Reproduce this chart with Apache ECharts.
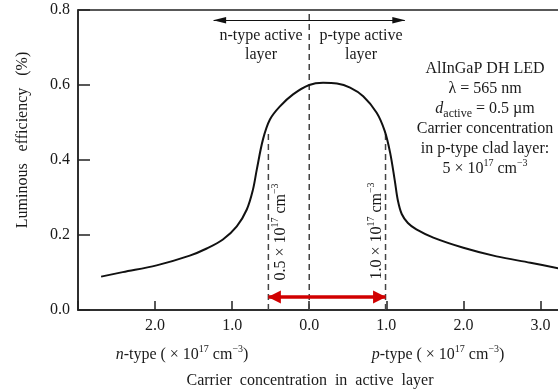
<!DOCTYPE html>
<html>
<head>
<meta charset="utf-8">
<script src="https://cdn.jsdelivr.net/npm/echarts@6/dist/echarts.min.js"></script>
<style>
  html, body { margin: 0; padding: 0; background: #fff; }
  #main { width: 558px; height: 390px; }
</style>
</head>
<body>
<div id="main"></div>
<script>
// carrier concentration: n-type negative, p-type positive (x 10^17 cm^-3)
const curveX = [-2.70, -2.42, -1.98, -1.55, -1.33, -1.12, -0.94, -0.81, -0.73, -0.68, -0.60, -0.51, -0.38, -0.21, 0.0, 0.18, 0.36, 0.53, 0.70, 0.875, 0.98, 1.05, 1.11, 1.15, 1.20, 1.28, 1.39, 1.61, 2.0, 2.43, 2.87, 3.26];
// luminous efficiency (%)
const curveY = [0.089, 0.101, 0.119, 0.145, 0.164, 0.188, 0.223, 0.268, 0.321, 0.375, 0.455, 0.508, 0.543, 0.575, 0.600, 0.606, 0.604, 0.593, 0.570, 0.526, 0.477, 0.419, 0.345, 0.292, 0.256, 0.232, 0.215, 0.193, 0.166, 0.143, 0.126, 0.110];

// dashed guide lines (x, top of line)
const guideX = [-0.53, 0.0, 0.99];
const guideTop = [0.48, 0.8, 0.48];

// red range arrow and the active-layer arrow
const rangeArrowX = [-0.53, 0.99];
const rangeArrowY = 0.035;
const layerArrowX = [-1.24, 1.24];
const layerArrowY = 0.773;

const xTickValues = [-2, -1, 0, 1, 2, 3];
const yTickValues = [0, 0.2, 0.4, 0.6, 0.8];

const SERIF = "'Liberation Serif', 'DejaVu Serif', serif";
const TXT = '#1a1a1a';

const myChart = echarts.init(document.getElementById('main'));

const richStyles = {
  n: { fontFamily: SERIF, fontSize: 16, lineHeight: 22, color: TXT },
  i: { fontFamily: SERIF, fontSize: 16, lineHeight: 22, fontStyle: 'italic', color: TXT },
  sup: { fontFamily: SERIF, fontSize: 10, lineHeight: 10, verticalAlign: 'top', color: TXT },
  sub: { fontFamily: SERIF, fontSize: 12, lineHeight: 14, verticalAlign: 'bottom', color: TXT }
};

function txt(x, y, text, opts) {
  opts = opts || {};
  return {
    type: 'text',
    x: x,
    y: y,
    rotation: opts.rotation || 0,
    silent: true,
    style: {
      text: text,
      rich: richStyles,
      fontFamily: SERIF,
      fontSize: opts.fontSize || 16,
      fill: TXT,
      align: 'center',
      verticalAlign: 'middle'
    }
  };
}

const guideSeries = guideX.map(function (gx, k) {
  return {
    type: 'line',
    data: [[gx, 0], [gx, guideTop[k]]],
    symbol: 'none',
    silent: true,
    z: 1,
    lineStyle: { color: '#444', width: 1.5, type: [6, 4] }
  };
});

myChart.setOption({
  backgroundColor: '#fff',
  animation: false,
  grid: {
    left: 78, top: 10, bottom: 80, width: 501,
    outerBoundsMode: 'none',
    show: true, borderColor: '#222', borderWidth: 1.5
  },
  xAxis: {
    type: 'value',
    min: -3, max: 3.5, interval: 1,
    axisLine: { onZero: false, lineStyle: { color: '#222', width: 1.5 } },
    axisTick: { inside: true, length: 9, lineStyle: { color: '#222', width: 1.5 } },
    splitLine: { show: false },
    axisLabel: {
      margin: 8, fontFamily: SERIF, fontSize: 16, color: TXT,
      formatter: function (v) {
        return xTickValues.indexOf(v) >= 0 ? Math.abs(v).toFixed(1) : '';
      }
    }
  },
  yAxis: {
    type: 'value',
    min: 0, max: 0.8, interval: 0.2,
    axisLine: { onZero: false, lineStyle: { color: '#222', width: 1.5 } },
    axisTick: { inside: true, length: 12, lineStyle: { color: '#222', width: 1.5 } },
    splitLine: { show: false },
    axisLabel: {
      margin: 8, fontFamily: SERIF, fontSize: 16, color: TXT,
      formatter: function (v) {
        return yTickValues.indexOf(Math.round(v * 10) / 10) >= 0 ? v.toFixed(1) : '';
      }
    }
  },
  series: guideSeries.concat([
    {
      type: 'line',
      data: curveX.map(function (x, k) { return [x, curveY[k]]; }),
      smooth: 0.35,
      symbol: 'none',
      z: 3,
      lineStyle: { color: '#111', width: 2 }
    },
    {
      type: 'line',
      data: [],
      silent: true,
      markLine: {
        silent: true,
        animation: false,
        label: { show: false },
        symbol: ['triangle', 'triangle'],
        symbolSize: 13,
        symbolOffset: [[0, 6], [0, 6]],
        lineStyle: { color: '#d10000', width: 3.5, type: 'solid' },
        data: [[
          { coord: [rangeArrowX[0], rangeArrowY] },
          { coord: [rangeArrowX[1], rangeArrowY] }
        ]]
      }
    },
    {
      type: 'line',
      data: [],
      silent: true,
      markLine: {
        silent: true,
        animation: false,
        label: { show: false },
        symbol: ['path://M0,0 L3,12 L-3,12 Z', 'path://M0,0 L3,12 L-3,12 Z'],
        symbolKeepAspect: true,
        symbolSize: 13,
        symbolOffset: [[0, 6], [0, 6]],
        lineStyle: { color: '#111', width: 1.2, type: 'solid' },
        data: [[
          { coord: [layerArrowX[0], layerArrowY] },
          { coord: [layerArrowX[1], layerArrowY] }
        ]]
      }
    }
  ]),
  graphic: [
    txt(23, 140, 'Luminous   efficiency   (%)', { rotation: Math.PI / 2, fontSize: 16 }),
    txt(261, 36, 'n-type active'),
    txt(261, 55, 'layer'),
    txt(361, 36, 'p-type active'),
    txt(361, 55, 'layer'),
    txt(485, 69, 'AlInGaP DH LED'),
    txt(485, 89, 'λ = 565 nm'),
    txt(485, 109, '{i|d}{sub|active}{n| = 0.5 µm}'),
    txt(485, 129, 'Carrier concentration'),
    txt(485, 149, 'in p-type clad layer:'),
    txt(485, 169, '{n|5 × 10}{sup|17}{n| cm}{sup|−3}'),
    txt(281, 232, '{n|0.5 × 10}{sup|17}{n| cm}{sup|−3}', { rotation: Math.PI / 2 }),
    txt(377, 231, '{n|1.0 × 10}{sup|17}{n| cm}{sup|−3}', { rotation: Math.PI / 2 }),
    txt(182, 355, '{i|n}{n|-type ( × 10}{sup|17}{n| cm}{sup|−3}{n|)}'),
    txt(438, 355, '{i|p}{n|-type ( × 10}{sup|17}{n| cm}{sup|−3}{n|)}'),
    txt(310, 381, 'Carrier  concentration  in  active  layer')
  ]
});
</script>
</body>
</html>
